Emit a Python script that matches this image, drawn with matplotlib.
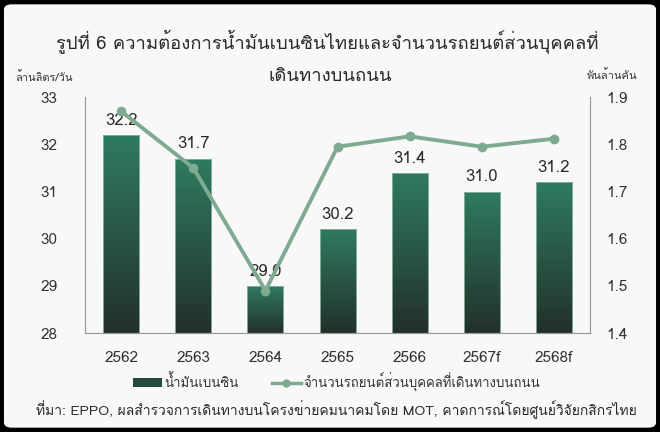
import numpy as np
import matplotlib
matplotlib.use("Agg")
import matplotlib.pyplot as plt
from matplotlib import font_manager
from matplotlib.ft2font import FT2Font
from matplotlib.colors import LinearSegmentedColormap
from matplotlib.lines import Line2D
from matplotlib.patches import Patch, FancyBboxPatch

# data
years = ["2562", "2563", "2564", "2565", "2566", "2567f", "2568f"]
benzin = [32.2, 31.7, 29.0, 30.2, 31.4, 31.0, 31.2]        # ล้านลิตร/วัน
cars = [1.87, 1.75, 1.49, 1.795, 1.817, 1.795, 1.812]      # พันล้านคัน

title_1 = "รูปที่ 6 ความต้องการน้ำมันเบนซินไทยและจำนวนรถยนต์ส่วนบุคคลที่"
title_2 = "เดินทางบนถนน"
source = "ที่มา: EPPO, ผลสำรวจการเดินทางบนโครงข่ายคมนาคมโดย MOT, คาดการณ์โดยศูนย์วิจัยกสิกรไทย"


def find_thai_font():
    # look for any installed font that has Thai glyphs
    for f in font_manager.fontManager.ttflist:
        try:
            if ord("ก") in FT2Font(f.fname).get_charmap():
                return f.name
        except Exception:
            pass
    return None


thai = find_thai_font()
fams = ([thai] if thai else []) + ["DejaVu Sans"]
plt.rcParams["font.family"] = fams

bg = "#f8f8f8"
bar_cmap = LinearSegmentedColormap.from_list("g", ["#23302a", "#2f7b60"])
line_col = "#7faa92"
spine_col = "#9a9a9a"
txt_col = "#2a2a2a"

fig = plt.figure(figsize=(6.6, 4.32), dpi=100)
fig.patch.set_facecolor("black")
fig.patches.append(FancyBboxPatch((0.006, 0.01), 0.988, 0.98, boxstyle="round,pad=0,rounding_size=0.012",
                                  transform=fig.transFigure, facecolor=bg, edgecolor="none", zorder=-1))

ax = fig.add_axes([0.129, 0.229, 0.765, 0.546])
ax.set_facecolor(bg)
x = np.arange(len(years))
bars = ax.bar(x, benzin, width=0.5, color="none", edgecolor="#8fb9a4", linewidth=0.6, zorder=2)
grad = np.linspace(0, 1, 256).reshape(-1, 1)
for b in bars:
    x0, y0 = b.get_x(), b.get_y()
    im = ax.imshow(grad, extent=[x0, x0 + b.get_width(), 28, y0 + b.get_height()],
                   origin="lower", aspect="auto", cmap=bar_cmap, zorder=1)
    im.set_clip_path(b)
for xi, v in zip(x, benzin):
    ax.text(xi, v + 0.13, f"{v:.1f}", ha="center", va="bottom", fontsize=12, color=txt_col, zorder=5)

ax.set_xlim(-0.5, 6.5)
ax.set_ylim(28, 33)
ax.set_xticks(x)
ax.set_xticklabels(years)
ax.set_yticks(range(28, 34))
ax.tick_params(length=0, labelsize=11, colors="#333333")
ax.tick_params(axis="x", pad=13)
ax.tick_params(axis="y", pad=20)
ax.spines["top"].set_visible(False)
for s in ["left", "bottom", "right"]:
    ax.spines[s].set_color(spine_col)

ax2 = ax.twinx()
ax2.plot(x, cars, color=line_col, linewidth=2.8, marker="o", markersize=6, zorder=4)
ax2.set_ylim(1.4, 1.9)
ax2.set_yticks([1.4, 1.5, 1.6, 1.7, 1.8, 1.9])
ax2.tick_params(length=0, labelsize=11, colors="#333333", pad=12)
ax2.spines["top"].set_visible(False)
for s in ["left", "bottom", "right"]:
    ax2.spines[s].set_color(spine_col)

fig.text(0.496, 1 - 48 / 432, title_1, ha="center", va="baseline", fontsize=13.3, color=txt_col)
fig.text(0.5, 1 - 81 / 432, title_2, ha="center", va="baseline", fontsize=13.3, color=txt_col)
fig.text(15 / 660, 1 - 81 / 432, "ล้านลิตร/วัน", ha="left", va="baseline", fontsize=8, color="#333333")
fig.text(637 / 660, 1 - 79 / 432, "พันล้านคัน", ha="right", va="baseline", fontsize=8, color="#333333")

handles = [Patch(facecolor="#25493a", edgecolor="none", label="น้ำมันเบนซิน"),
           Line2D([0], [0], color=line_col, linewidth=2.5, marker="o", markersize=5,
                  label="จำนวนรถยนต์ส่วนบุคคลที่เดินทางบนถนน")]
fig.legend(handles=handles, loc="center", bbox_to_anchor=(0.51, 1 - 382 / 432), ncol=2, frameon=False,
           fontsize=9.5, handlelength=2.2, columnspacing=2.5, handletextpad=0.2, labelcolor="#333333")

fig.text(0.51, 1 - 410 / 432, source, ha="center", va="center", fontsize=10, color=txt_col)

fig.savefig("out.png", dpi=100, facecolor="black")
